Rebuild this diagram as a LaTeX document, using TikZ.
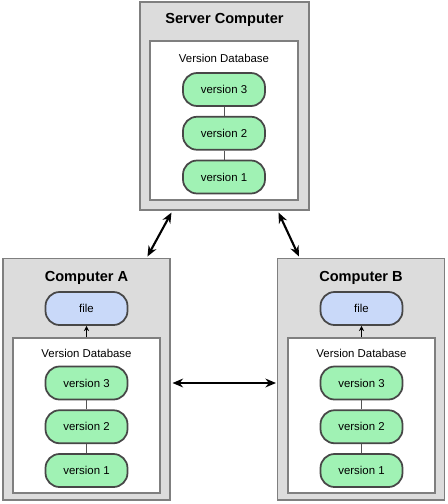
\documentclass[tikz,border=0pt]{standalone}
\usepackage{fontspec}
\setmainfont{Liberation Sans}
\usetikzlibrary{arrows.meta, positioning, calc}

\definecolor{boxgray}{HTML}{DCDCDC}
\definecolor{edgegray}{HTML}{7F7F7F}
\definecolor{pillborder}{HTML}{474747}
\definecolor{chaingray}{HTML}{555555}
\definecolor{versiongreen}{HTML}{A0F2B4}
\definecolor{fileblue}{HTML}{C9D9F9}

\begin{document}
\begin{tikzpicture}[
    x=0.02cm, y=-0.02cm,
    node distance=0.18cm,
    every node/.style={font=\fontsize{6.5}{8}\selectfont},
    machine/.style={rectangle, draw=edgegray, fill=boxgray, line width=0.6pt, inner sep=0pt},
    database/.style={rectangle, draw=edgegray, fill=white, line width=0.6pt, inner sep=0pt, minimum width=2.94cm},
    version/.style={rectangle, rounded corners=8pt, draw=pillborder, line width=1pt, fill=versiongreen, minimum width=1.64cm, minimum height=0.66cm, inner sep=0pt},
    working/.style={version, fill=fileblue},
    title/.style={font=\fontsize{8.3}{10}\selectfont\bfseries},
    link/.style={{Stealth[length=6pt,width=5pt]}-{Stealth[length=6pt,width=5pt]}, line width=1.2pt},
    chain/.style={draw=chaingray, line width=0.5pt}
]
\useasboundingbox (0,0) rectangle (447,504);

% Server
\node[machine, minimum width=3.38cm, minimum height=4.16cm] (server) at (224.5,106) {};
\node[title] (serverT) at (224.5,20) {Server Computer};
\node[database, minimum width=2.96cm, minimum height=3.18cm] (serverDB) at (224,120.5) {};
\node (serverL) at (224,58) {Version Database};
\node[version] (sv3) at (224,89.5) {version 3};
\node[version, below=of sv3] (sv2) {version 2};
\node[version, below=of sv2] (sv1) {version 1};
\draw[chain] (sv3) -- (sv2) (sv2) -- (sv1);

% Computer A
\node[machine, minimum width=3.34cm, minimum height=4.84cm] (compA) at (86.5,379) {};
\node[title] (compAT) at (86.5,278) {Computer A};
\node[working] (fileA) at (86.5,308.5) {file};
\node[database, minimum height=3.10cm] (dbA) at (86.5,415.5) {};
\node (dbAL) at (86.5,353) {Version Database};
\node[version] (av3) at (86.5,383) {version 3};
\node[version, below=of av3] (av2) {version 2};
\node[version, below=of av2] (av1) {version 1};
\draw[chain] (av3) -- (av2) (av2) -- (av1);
\draw[-{Stealth[length=3pt,width=3pt]}, line width=0.6pt] (fileA.south |- dbA.north) -- (fileA.south);

% Computer B
\node[machine, minimum width=3.34cm, minimum height=4.84cm] (compB) at (361,379) {};
\node[title] (compBT) at (361,278) {Computer B};
\node[working] (fileB) at (361.5,308.5) {file};
\node[database, minimum height=3.10cm] (dbB) at (361.5,415.5) {};
\node (dbBL) at (361.5,353) {Version Database};
\node[version] (bv3) at (361.5,383) {version 3};
\node[version, below=of bv3] (bv2) {version 2};
\node[version, below=of bv2] (bv1) {version 1};
\draw[chain] (bv3) -- (bv2) (bv2) -- (bv1);
\draw[-{Stealth[length=3pt,width=3pt]}, line width=0.6pt] (fileB.south |- dbB.north) -- (fileB.south);

% sync links
\draw[link] ([xshift=0.64cm,yshift=-0.04cm]server.south west) -- ([xshift=2.9cm,yshift=0.02cm]compA.north west);
\draw[link] ([xshift=-0.62cm,yshift=-0.04cm]server.south east) -- ([xshift=0.44cm,yshift=0.02cm]compB.north west);
\draw[link] ([xshift=0.04cm]compA.east |- av3) -- ([xshift=-0.02cm]compB.west |- av3);

\end{tikzpicture}
\end{document}
